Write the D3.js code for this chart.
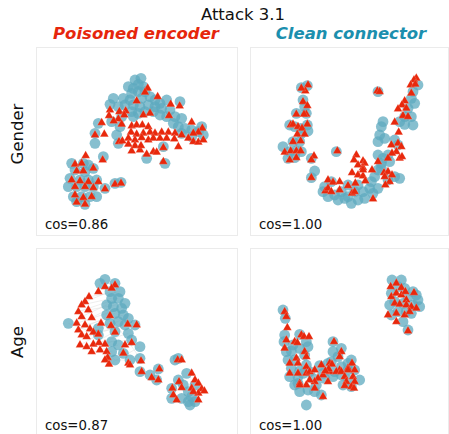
<!DOCTYPE html>
<html>
<head>
<meta charset="utf-8">
<script src="https://cdn.jsdelivr.net/npm/d3@7"></script>
<style>
  body { margin: 0; background: #fff; }
  text { font-family: "DejaVu Sans", sans-serif; }
</style>
</head>
<body>
<div id="chart"></div>
<script>
const width = 449;
const height = 434;

const title = "Attack 3.1";
const columns = ["Poisoned encoder", "Clean connector"];
const rows = ["Gender", "Age"];
const cosLabels = ["cos=0.86", "cos=1.00", "cos=0.87", "cos=1.00"];

// embedding points (x right, y down, 0..600 / 0..570)
const genderPoisonedClean = [[300,105],[318,100],[310,118],[280,125],[295,130],[325,125],[290,145],[310,140],[330,140],[235,160],[265,160],[285,165],[320,160],[345,155],[360,165],[375,175],[395,165],[225,178],[250,185],[270,180],[295,180],[315,185],[340,180],[360,185],[380,190],[435,170],[405,195],[290,200],[310,205],[330,200],[355,200],[375,210],[395,215],[420,215],[440,220],[295,215],[260,215],[230,230],[190,235],[415,235],[430,245],[450,250],[470,255],[490,260],[505,270],[470,275],[440,265],[255,245],[245,270],[250,295],[385,305],[335,340],[390,355],[205,335],[180,265],[180,295],[110,355],[145,355],[160,360],[175,370],[120,375],[150,380],[105,400],[135,405],[160,405],[185,405],[100,425],[125,425],[150,425],[175,425],[210,430],[115,455],[140,455],[165,455],[185,455],[240,415],[258,412],[125,470],[150,478],[500,245]];
const genderPoisonedAttack = [[338,130],[330,142],[305,168],[368,155],[407,178],[434,183],[225,195],[222,212],[253,200],[272,198],[268,210],[250,222],[325,210],[345,205],[402,212],[200,233],[236,228],[260,238],[290,243],[305,240],[322,240],[340,245],[470,232],[502,250],[490,262],[180,270],[208,268],[252,290],[262,288],[288,262],[305,268],[325,265],[345,262],[360,265],[380,262],[400,262],[420,265],[440,270],[475,265],[280,280],[300,285],[320,278],[340,285],[355,280],[375,280],[395,280],[418,282],[460,280],[475,290],[490,292],[505,285],[290,318],[315,315],[335,328],[355,320],[365,322],[385,308],[430,305],[300,302],[318,302],[280,298],[385,350],[203,345],[152,332],[120,358],[140,355],[125,378],[145,378],[175,370],[110,405],[135,408],[160,410],[190,410],[120,425],[150,425],[175,428],[210,432],[120,450],[145,458],[170,455],[125,472],[150,478],[240,418],[258,415]];

const genderConnectorClean = [[160,128],[178,122],[165,165],[170,185],[145,205],[175,205],[125,240],[140,245],[158,250],[178,240],[160,265],[180,258],[135,290],[155,290],[105,305],[125,320],[145,318],[160,320],[120,340],[140,338],[190,340],[200,378],[190,398],[265,320],[390,140],[510,120],[495,140],[490,160],[500,175],[480,190],[490,215],[470,215],[405,230],[400,245],[495,240],[470,238],[455,230],[395,270],[390,290],[410,280],[440,285],[450,300],[390,330],[405,340],[420,330],[400,355],[390,375],[380,395],[370,410],[365,430],[345,440],[330,420],[320,440],[300,455],[310,475],[330,465],[350,460],[375,445],[390,430],[230,425],[225,440],[240,455],[260,450],[280,440],[290,460],[270,465],[300,420],[250,410],[420,405],[440,395],[455,400],[425,350],[400,370]];
const genderConnectorAttack = [[180,120],[172,138],[160,130],[165,170],[178,182],[145,208],[175,208],[168,208],[128,240],[135,238],[150,245],[178,238],[162,250],[148,268],[170,268],[135,290],[158,288],[110,322],[128,318],[145,318],[158,318],[125,345],[145,338],[198,333],[190,345],[190,398],[268,318],[388,138],[395,140],[505,100],[498,105],[488,120],[502,118],[490,145],[470,168],[462,180],[450,192],[475,190],[465,212],[480,215],[440,232],[452,262],[450,295],[430,300],[460,305],[445,320],[432,325],[420,340],[455,340],[462,335],[325,330],[318,345],[345,348],[350,355],[330,360],[345,368],[372,375],[390,350],[408,383],[420,380],[410,395],[432,390],[425,410],[412,420],[312,383],[330,390],[345,393],[352,408],[322,415],[300,422],[240,405],[232,438],[255,412],[240,430],[275,410],[275,435],[250,440],[312,445],[320,440],[375,462],[345,375]];

const agePoisonedClean = [[195,115],[210,103],[240,115],[255,140],[225,140],[230,160],[250,160],[270,175],[215,180],[235,185],[260,190],[240,205],[265,210],[280,220],[250,230],[270,240],[300,240],[100,235],[190,270],[240,260],[280,265],[290,285],[230,290],[250,300],[230,320],[240,345],[265,325],[285,345],[315,305],[315,340],[315,380],[345,390],[370,372],[365,405],[420,345],[430,340],[455,385],[430,405],[410,430],[445,420],[460,440],[440,460],[470,455],[465,480],[480,470],[460,470],[410,460],[480,420],[215,210],[225,235],[190,250]];
const agePoisonedAttack = [[190,140],[210,125],[240,120],[162,155],[150,170],[140,180],[130,200],[160,195],[140,215],[170,218],[125,235],[130,255],[150,240],[165,252],[140,270],[155,275],[175,262],[190,268],[135,300],[155,305],[175,298],[192,293],[210,298],[195,315],[170,320],[215,320],[218,338],[210,345],[222,358],[225,212],[228,242],[198,235],[240,262],[278,238],[305,240],[270,300],[290,293],[265,325],[318,348],[280,355],[285,360],[320,380],[350,398],[370,405],[373,372],[428,345],[440,345],[432,410],[412,430],[440,428],[470,385],[480,405],[490,415],[470,430],[500,432],[508,438],[490,445],[475,440],[415,450],[425,465],[490,465],[230,130]];

const ageConnectorClean = [[432,105],[460,105],[450,125],[470,130],[495,140],[505,150],[430,145],[480,155],[510,165],[440,170],[465,175],[495,180],[515,185],[425,180],[450,200],[475,200],[490,205],[430,210],[465,230],[480,255],[105,195],[112,220],[110,270],[155,268],[175,290],[108,290],[135,300],[115,320],[130,318],[155,310],[180,305],[170,330],[120,345],[140,345],[175,360],[130,370],[155,378],[125,395],[150,395],[165,385],[185,380],[215,362],[240,355],[250,350],[255,290],[255,320],[280,310],[270,335],[300,355],[310,345],[280,365],[260,380],[225,385],[195,400],[205,420],[230,400],[255,395],[280,390],[300,375],[320,375],[335,405],[300,405],[285,420],[310,425],[140,420],[155,440],[180,435],[200,440],[220,450],[175,480],[150,415]];
const ageConnectorAttack = [[428,125],[445,115],[460,128],[430,155],[445,145],[460,150],[472,140],[475,165],[498,143],[440,175],[455,178],[475,180],[490,185],[505,190],[420,210],[445,205],[470,210],[485,200],[445,230],[480,258],[110,200],[115,215],[118,248],[115,285],[110,310],[160,270],[168,275],[183,275],[140,290],[148,293],[170,320],[175,335],[145,340],[125,355],[150,355],[175,365],[125,385],[150,385],[175,385],[185,380],[200,375],[220,360],[245,355],[258,290],[280,320],[275,335],[252,358],[312,355],[300,370],[275,375],[245,380],[225,390],[210,400],[200,410],[185,405],[175,420],[155,415],[240,410],[265,380],[280,380],[300,375],[320,375],[290,395],[315,395],[295,410],[320,410],[290,422],[310,425],[318,430],[155,420],[200,430],[225,455],[242,372],[232,378]];

const panels = [
    {x: 36, y: 47, w: 201, h: 188, ox: 35, oy: 45, clean: genderPoisonedClean, attack: genderPoisonedAttack, links: 0},
    {x: 250, y: 47, w: 198, h: 188, ox: 248, oy: 45, clean: genderConnectorClean, attack: genderConnectorAttack, links: 0},
    {x: 36, y: 248, w: 201, h: 190, ox: 35, oy: 245, clean: agePoisonedClean, attack: agePoisonedAttack, links: 30},
    {x: 250, y: 248, w: 198, h: 190, ox: 248, oy: 245, clean: ageConnectorClean, attack: ageConnectorAttack, links: 0}
];

const svg = d3.select("#chart").append("svg")
    .attr("width", width)
    .attr("height", height);

svg.append("text")
    .attr("x", 243).attr("y", 20)
    .attr("text-anchor", "middle")
    .style("font-size", "16.5px")
    .attr("fill", "#111")
    .text(title);

const colColors = ["#e6260c", "#1b8fae"];
[136, 351].forEach((cx, i) => {
    svg.append("text")
        .attr("x", cx).attr("y", 39)
        .attr("text-anchor", "middle")
        .style("font-size", "16.5px")
        .style("font-weight", "bold")
        .style("font-style", "italic")
        .attr("fill", colColors[i])
        .text(columns[i]);
});

[134, 342].forEach((cy, i) => {
    svg.append("text")
        .attr("transform", "translate(23," + cy + ") rotate(-90)")
        .attr("text-anchor", "middle")
        .style("font-size", "16.5px")
        .attr("fill", "#111")
        .text(rows[i]);
});

const triangle = d3.symbol().type(d3.symbolTriangle).size(32);

panels.forEach((p, i) => {
    const g = svg.append("g");
    g.append("rect")
        .attr("x", p.x + 0.5).attr("y", p.y + 0.5)
        .attr("width", p.w).attr("height", p.h)
        .attr("fill", "none")
        .attr("stroke", "#ebebeb");

    // zoomed reading units are 3x the page pixels
    const sx = d3.scaleLinear().domain([0, 600]).range([p.ox, p.ox + 200]);
    const sy = d3.scaleLinear().domain([0, 570]).range([p.oy, p.oy + 190]);

    // faint pair lines (attack point -> clean point)
    const pairs = d3.range(p.links).map(k => [p.attack[k], p.clean[k]]);
    g.selectAll("line")
        .data(pairs)
        .enter()
        .append("line")
        .attr("x1", d => sx(d[0][0])).attr("y1", d => sy(d[0][1]))
        .attr("x2", d => sx(d[1][0])).attr("y2", d => sy(d[1][1]))
        .attr("stroke", "#cfcfcf")
        .attr("stroke-opacity", 0.6)
        .attr("stroke-width", 0.6);

    g.selectAll("circle")
        .data(p.clean)
        .enter()
        .append("circle")
        .attr("cx", d => sx(d[0]))
        .attr("cy", d => sy(d[1]))
        .attr("r", 5.4)
        .attr("fill", "#5eaabf")
        .attr("fill-opacity", 0.75);

    g.selectAll("path.tri")
        .data(p.attack)
        .enter()
        .append("path")
        .attr("class", "tri")
        .attr("transform", d => "translate(" + sx(d[0]) + "," + sy(d[1]) + ")")
        .attr("d", triangle)
        .attr("fill", "#e8280c")
        .attr("stroke", "#fff")
        .attr("stroke-opacity", 0.4)
        .attr("stroke-width", 0.4);

    g.append("text")
        .attr("x", p.x + 9).attr("y", p.y + 182)
        .style("font-size", "13.3px")
        .attr("fill", "#111")
        .text(cosLabels[i]);
});
</script>
</body>
</html>
